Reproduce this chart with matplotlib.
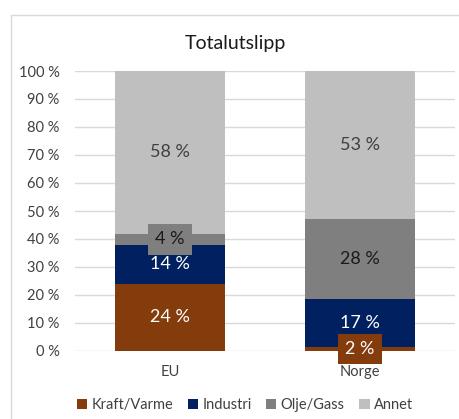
import numpy as np
import matplotlib.pyplot as plt
from matplotlib.patches import Rectangle

plt.rcParams['font.family'] = ['Lato', 'DejaVu Sans']

categories = ['EU', 'Norge']
series = ['Kraft/Varme', 'Industri', 'Olje/Gass', 'Annet']
kraft = [24.0, 1.6]
industri = [14.0, 17.1]
olje = [3.8, 28.3]
annet = [58.2, 53.0]
kraft_lbl = ['24 %', '2 %']
industri_lbl = ['14 %', '17 %']
olje_lbl = ['4 %', '28 %']
annet_lbl = ['58 %', '53 %']

colors = ['#843C0C', '#002060', '#7F7F7F', '#BFBFBF']
txt_colors = ['white', 'white', '#1a1a1a', '#404040']

fig = plt.figure(figsize=(4.6, 4.19), dpi=100)
fig.patches.append(Rectangle((11/460, -0.1), 1.2, 1 - 15/419 + 0.1, transform=fig.transFigure,
                             fill=False, edgecolor='#D9D9D9', lw=1))
ax = fig.add_axes([75/460, 1 - 351/419, 380/460, 280/419])

x = np.arange(len(categories))
w = 0.574
bottom = np.zeros(len(categories))
data = [kraft, industri, olje, annet]
labels = [kraft_lbl, industri_lbl, olje_lbl, annet_lbl]
for i, (vals, name) in enumerate(zip(data, series)):
    vals = np.array(vals)
    ax.bar(x, vals, w, bottom=bottom, color=colors[i], label=name, zorder=2)
    for j in range(len(x)):
        yc = bottom[j] + vals[j] / 2
        box = None
        if vals[j] < 6:
            box = dict(boxstyle='square,pad=0.4', fc=colors[i], ec='none')
        ax.text(x[j], yc, labels[i][j], ha='center', va='center', fontsize=13,
                color=txt_colors[i], bbox=box, zorder=3)
    bottom += vals

ax.set_xlim(-0.5, 1.5)
ax.set_ylim(0, 100)
ax.set_yticks(np.arange(0, 101, 10))
ax.set_yticklabels(['%d %%' % v for v in range(0, 101, 10)])
ax.set_xticks(x)
ax.set_xticklabels(categories)
ax.yaxis.grid(True, color='#D9D9D9', lw=1, zorder=0)
ax.set_axisbelow(True)
for s in ax.spines.values():
    s.set_visible(False)
ax.tick_params(length=0, labelsize=10.5, labelcolor='#404040')
ax.tick_params(axis='y', pad=11)
ax.tick_params(axis='x', pad=10)

fig.text(235/460, 1 - 43/419, 'Totalutslipp', ha='center', va='center', fontsize=14, color='#1a1a1a')
fig.legend(loc='center', bbox_to_anchor=(245/460, 1 - 405/419), ncol=4, frameon=False,
           fontsize=10.5, handlelength=0.7, handleheight=0.7, handletextpad=0.3,
           columnspacing=1.0, labelcolor='#404040')

fig.savefig('out.png', dpi=100)
